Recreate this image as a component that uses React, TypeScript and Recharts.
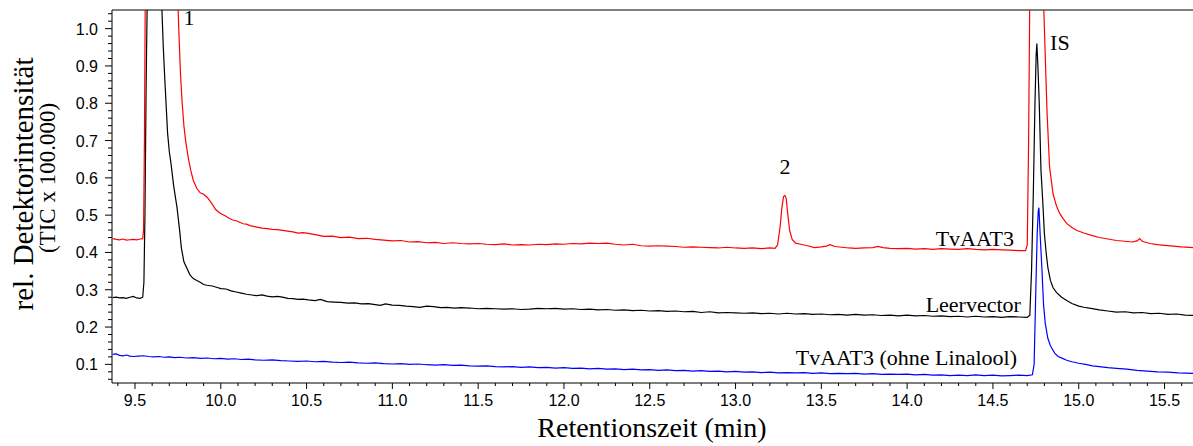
import React from 'react';
import { LineChart, Line, XAxis, YAxis, ReferenceLine, ReferenceDot, Label } from 'recharts';

type Pt = [number, number];

// retention time (min), rel. intensity
const tvaat3: Pt[] = [
  [9.37, 0.437], [9.39, 0.435], [9.41, 0.434], [9.43, 0.436], [9.45, 0.433], [9.47, 0.434], [9.49, 0.435], [9.51, 0.434], [9.53, 0.436], [9.545, 0.437],
  [9.55, 0.46], [9.555, 0.7], [9.56, 1.1], [9.58, 1.6], [9.65, 1.9], [9.72, 1.6], [9.745, 1.15], [9.755, 1.0], [9.765, 0.88], [9.775, 0.8],
  [9.785, 0.74], [9.795, 0.7], [9.81, 0.655], [9.825, 0.62], [9.84, 0.593], [9.86, 0.572], [9.88, 0.56], [9.9, 0.556], [9.92, 0.548], [9.94, 0.536],
  [9.955, 0.526], [9.97, 0.515], [9.99, 0.507], [10.01, 0.502], [10.03, 0.497], [10.05, 0.491], [10.07, 0.487], [10.09, 0.485], [10.11, 0.481], [10.13, 0.477],
  [10.15, 0.476], [10.17, 0.472], [10.19, 0.47], [10.21, 0.468], [10.24, 0.465], [10.27, 0.464], [10.3, 0.462], [10.33, 0.461], [10.36, 0.459], [10.39, 0.457],
  [10.42, 0.455], [10.45, 0.452], [10.48, 0.453], [10.51, 0.451], [10.55, 0.448], [10.6, 0.443], [10.65, 0.444], [10.7, 0.44], [10.75, 0.441], [10.8, 0.437],
  [10.85, 0.438], [10.9, 0.435], [10.95, 0.433], [11.0, 0.431], [11.05, 0.432], [11.1, 0.428], [11.15, 0.429], [11.2, 0.426], [11.25, 0.427], [11.3, 0.424],
  [11.35, 0.426], [11.4, 0.424], [11.45, 0.423], [11.5, 0.424], [11.55, 0.422], [11.6, 0.421], [11.65, 0.423], [11.7, 0.42], [11.75, 0.421], [11.8, 0.42],
  [11.85, 0.422], [11.9, 0.421], [11.95, 0.423], [12.0, 0.422], [12.05, 0.424], [12.1, 0.423], [12.15, 0.425], [12.2, 0.424], [12.25, 0.425], [12.3, 0.422],
  [12.35, 0.42], [12.4, 0.422], [12.45, 0.418], [12.5, 0.417], [12.55, 0.418], [12.6, 0.417], [12.65, 0.416], [12.7, 0.414], [12.75, 0.415], [12.8, 0.414],
  [12.85, 0.413], [12.9, 0.412], [12.95, 0.414], [13.0, 0.412], [13.05, 0.411], [13.1, 0.412], [13.15, 0.41], [13.2, 0.412], [13.23, 0.411], [13.245, 0.42],
  [13.26, 0.47], [13.27, 0.52], [13.28, 0.55], [13.288, 0.553], [13.295, 0.545], [13.305, 0.5], [13.315, 0.46], [13.33, 0.435], [13.35, 0.425], [13.38, 0.422],
  [13.42, 0.418], [13.46, 0.413], [13.5, 0.415], [13.53, 0.417], [13.55, 0.421], [13.58, 0.416], [13.62, 0.414], [13.66, 0.412], [13.7, 0.411], [13.75, 0.412],
  [13.8, 0.413], [13.83, 0.416], [13.86, 0.413], [13.9, 0.411], [13.95, 0.41], [14.0, 0.411], [14.05, 0.409], [14.1, 0.41], [14.15, 0.408], [14.2, 0.41],
  [14.25, 0.409], [14.3, 0.408], [14.35, 0.41], [14.4, 0.408], [14.45, 0.407], [14.5, 0.408], [14.55, 0.407], [14.6, 0.406], [14.65, 0.405], [14.69, 0.405],
  [14.7, 0.42], [14.708, 0.7], [14.715, 1.1], [14.74, 1.6], [14.77, 1.6], [14.79, 1.15], [14.8, 1.0], [14.815, 0.78], [14.83, 0.63], [14.85, 0.558],
  [14.87, 0.525], [14.89, 0.504], [14.91, 0.49], [14.93, 0.478], [14.96, 0.467], [14.99, 0.459], [15.03, 0.452], [15.08, 0.445], [15.12, 0.44], [15.17, 0.436],
  [15.22, 0.432], [15.27, 0.43], [15.31, 0.428], [15.34, 0.431], [15.355, 0.437], [15.37, 0.43], [15.415, 0.424], [15.46, 0.421], [15.5, 0.419], [15.55, 0.417],
  [15.6, 0.415], [15.67, 0.413],
];

const leervector: Pt[] = [
  [9.37, 0.279], [9.39, 0.28], [9.41, 0.278], [9.43, 0.279], [9.45, 0.277], [9.47, 0.28], [9.49, 0.282], [9.51, 0.278], [9.53, 0.277], [9.545, 0.28],
  [9.552, 0.32], [9.558, 0.5], [9.565, 0.85], [9.572, 1.1], [9.6, 1.6], [9.64, 1.4], [9.657, 1.05], [9.665, 0.95], [9.675, 0.853], [9.69, 0.72],
  [9.7, 0.67], [9.71, 0.638], [9.725, 0.58], [9.745, 0.52], [9.76, 0.46], [9.77, 0.413], [9.785, 0.375], [9.8, 0.36], [9.82, 0.34], [9.84, 0.33],
  [9.86, 0.325], [9.88, 0.32], [9.9, 0.314], [9.92, 0.312], [9.95, 0.31], [9.98, 0.306], [10.0, 0.303], [10.03, 0.302], [10.06, 0.297], [10.09, 0.294],
  [10.12, 0.291], [10.15, 0.288], [10.18, 0.286], [10.21, 0.284], [10.24, 0.286], [10.27, 0.283], [10.3, 0.281], [10.33, 0.282], [10.36, 0.28], [10.39, 0.277],
  [10.42, 0.276], [10.45, 0.274], [10.48, 0.275], [10.51, 0.273], [10.55, 0.271], [10.58, 0.274], [10.62, 0.268], [10.66, 0.267], [10.7, 0.266], [10.74, 0.264],
  [10.78, 0.265], [10.82, 0.262], [10.86, 0.263], [10.9, 0.26], [10.93, 0.258], [10.96, 0.262], [11.0, 0.259], [11.04, 0.258], [11.08, 0.256], [11.12, 0.255],
  [11.16, 0.253], [11.2, 0.256], [11.24, 0.255], [11.28, 0.252], [11.32, 0.253], [11.36, 0.251], [11.4, 0.252], [11.45, 0.251], [11.5, 0.249], [11.55, 0.25],
  [11.6, 0.249], [11.65, 0.248], [11.7, 0.249], [11.75, 0.247], [11.8, 0.248], [11.85, 0.25], [11.9, 0.249], [11.95, 0.25], [12.0, 0.248], [12.05, 0.249],
  [12.1, 0.247], [12.15, 0.248], [12.2, 0.246], [12.25, 0.247], [12.3, 0.245], [12.35, 0.246], [12.4, 0.244], [12.45, 0.245], [12.5, 0.243], [12.55, 0.244],
  [12.6, 0.242], [12.65, 0.243], [12.7, 0.241], [12.75, 0.242], [12.8, 0.239], [12.85, 0.241], [12.9, 0.238], [12.95, 0.239], [13.0, 0.238], [13.05, 0.237],
  [13.1, 0.238], [13.15, 0.236], [13.2, 0.237], [13.25, 0.235], [13.3, 0.237], [13.35, 0.235], [13.4, 0.236], [13.45, 0.234], [13.5, 0.235], [13.55, 0.233],
  [13.6, 0.234], [13.65, 0.232], [13.7, 0.234], [13.75, 0.232], [13.8, 0.233], [13.85, 0.231], [13.9, 0.232], [13.95, 0.23], [14.0, 0.232], [14.05, 0.23],
  [14.1, 0.231], [14.15, 0.229], [14.2, 0.23], [14.25, 0.228], [14.3, 0.229], [14.35, 0.227], [14.4, 0.229], [14.45, 0.227], [14.5, 0.228], [14.55, 0.226],
  [14.6, 0.228], [14.65, 0.227], [14.7, 0.226], [14.715, 0.232], [14.725, 0.35], [14.735, 0.55], [14.745, 0.8], [14.752, 0.93], [14.756, 0.96], [14.762, 0.9],
  [14.77, 0.8], [14.78, 0.62], [14.79, 0.54], [14.8, 0.45], [14.81, 0.4], [14.82, 0.36], [14.835, 0.325], [14.85, 0.306], [14.87, 0.293], [14.9, 0.28],
  [14.93, 0.271], [14.96, 0.263], [15.0, 0.256], [15.03, 0.253], [15.07, 0.25], [15.12, 0.246], [15.17, 0.243], [15.22, 0.24], [15.27, 0.241], [15.32, 0.238],
  [15.37, 0.239], [15.42, 0.236], [15.47, 0.237], [15.52, 0.234], [15.57, 0.235], [15.62, 0.232], [15.67, 0.231],
];

const ohneLinalool: Pt[] = [
  [9.37, 0.127], [9.39, 0.128], [9.41, 0.124], [9.43, 0.123], [9.45, 0.125], [9.47, 0.122], [9.49, 0.121], [9.52, 0.122], [9.55, 0.123], [9.58, 0.121],
  [9.61, 0.12], [9.64, 0.121], [9.67, 0.119], [9.7, 0.12], [9.73, 0.118], [9.76, 0.119], [9.8, 0.117], [9.84, 0.118], [9.88, 0.116], [9.92, 0.117],
  [9.96, 0.115], [10.0, 0.116], [10.04, 0.114], [10.08, 0.115], [10.12, 0.113], [10.16, 0.114], [10.2, 0.112], [10.25, 0.111], [10.3, 0.112], [10.35, 0.11],
  [10.4, 0.109], [10.45, 0.108], [10.5, 0.109], [10.55, 0.107], [10.6, 0.108], [10.65, 0.106], [10.7, 0.105], [10.75, 0.106], [10.8, 0.104], [10.85, 0.103],
  [10.9, 0.104], [10.95, 0.102], [11.0, 0.101], [11.05, 0.102], [11.1, 0.1], [11.15, 0.101], [11.2, 0.099], [11.25, 0.098], [11.3, 0.099], [11.35, 0.097],
  [11.4, 0.098], [11.45, 0.096], [11.5, 0.095], [11.55, 0.096], [11.6, 0.094], [11.65, 0.093], [11.7, 0.094], [11.75, 0.092], [11.8, 0.093], [11.85, 0.091],
  [11.9, 0.092], [11.95, 0.09], [12.0, 0.091], [12.05, 0.089], [12.1, 0.09], [12.15, 0.088], [12.2, 0.089], [12.25, 0.087], [12.3, 0.088], [12.35, 0.086],
  [12.4, 0.087], [12.45, 0.085], [12.5, 0.086], [12.55, 0.084], [12.6, 0.085], [12.65, 0.083], [12.7, 0.084], [12.75, 0.082], [12.8, 0.083], [12.85, 0.081],
  [12.9, 0.082], [12.95, 0.08], [13.0, 0.081], [13.05, 0.079], [13.1, 0.08], [13.15, 0.078], [13.2, 0.079], [13.25, 0.077], [13.3, 0.078], [13.35, 0.077],
  [13.4, 0.078], [13.45, 0.076], [13.5, 0.077], [13.55, 0.075], [13.6, 0.076], [13.65, 0.075], [13.7, 0.076], [13.75, 0.074], [13.8, 0.075], [13.85, 0.073],
  [13.9, 0.074], [13.95, 0.073], [14.0, 0.074], [14.05, 0.072], [14.1, 0.073], [14.15, 0.071], [14.2, 0.072], [14.25, 0.07], [14.3, 0.071], [14.35, 0.07],
  [14.4, 0.072], [14.45, 0.07], [14.5, 0.071], [14.55, 0.069], [14.6, 0.07], [14.65, 0.071], [14.7, 0.07], [14.73, 0.072], [14.74, 0.1], [14.75, 0.3],
  [14.758, 0.45], [14.764, 0.51], [14.768, 0.52], [14.775, 0.45], [14.785, 0.36], [14.795, 0.26], [14.805, 0.21], [14.82, 0.17], [14.835, 0.15], [14.86, 0.13],
  [14.88, 0.121], [14.905, 0.116], [14.93, 0.111], [14.96, 0.107], [15.0, 0.103], [15.04, 0.1], [15.08, 0.096], [15.12, 0.094], [15.17, 0.091], [15.22, 0.089],
  [15.28, 0.087], [15.34, 0.084], [15.4, 0.082], [15.46, 0.08], [15.52, 0.079], [15.58, 0.077], [15.67, 0.076],
];

const xTicks = [
  9.4, 9.5, 9.6, 9.7, 9.8, 9.9, 10.0, 10.1, 10.2, 10.3, 10.4, 10.5, 10.6, 10.7, 10.8, 10.9, 11.0, 11.1, 11.2, 11.3, 11.4, 11.5,
  11.6, 11.7, 11.8, 11.9, 12.0, 12.1, 12.2, 12.3, 12.4, 12.5, 12.6, 12.7, 12.8, 12.9, 13.0, 13.1, 13.2, 13.3, 13.4, 13.5,
  13.6, 13.7, 13.8, 13.9, 14.0, 14.1, 14.2, 14.3, 14.4, 14.5, 14.6, 14.7, 14.8, 14.9, 15.0, 15.1, 15.2, 15.3, 15.4, 15.5, 15.6,
];
const yTicks = [
  0.06, 0.08, 0.1, 0.12, 0.14, 0.16, 0.18, 0.2, 0.22, 0.24, 0.26, 0.28, 0.3, 0.32, 0.34, 0.36, 0.38, 0.4, 0.42, 0.44, 0.46, 0.48, 0.5,
  0.52, 0.54, 0.56, 0.58, 0.6, 0.62, 0.64, 0.66, 0.68, 0.7, 0.72, 0.74, 0.76, 0.78, 0.8, 0.82, 0.84, 0.86, 0.88, 0.9, 0.92, 0.94,
  0.96, 0.98, 1.0, 1.02, 1.04,
];

const toRows = (pts: Pt[]) => pts.map(([t, v]) => ({ t, v }));

const SANS = 'Liberation Sans, Arial, sans-serif';
const SERIF = 'Liberation Serif, Times New Roman, serif';

const isMajor = (v: number, step: number) => Math.abs(v / step - Math.round(v / step)) < 1e-6;

const XTick = (props: any) => {
  const { x, y, payload } = props;
  const major = isMajor(payload.value, 0.5);
  return (
    <g>
      <line x1={x} x2={x} y1={y} y2={y + (major ? 6 : 3)} stroke="#000" strokeWidth={1} />
      {major && (
        <text x={x} y={y + 23} textAnchor="middle" fontSize={16} fontFamily={SANS} fill="#000">
          {payload.value.toFixed(1)}
        </text>
      )}
    </g>
  );
};

const YTick = (props: any) => {
  const { x, y, payload } = props;
  const major = isMajor(payload.value, 0.1);
  return (
    <g>
      <line x1={x - (major ? 7 : 4)} x2={x} y1={y} y2={y} stroke="#000" strokeWidth={1} />
      {major && (
        <text x={x - 14} y={y + 6} textAnchor="end" fontSize={16} fontFamily={SANS} fill="#000">
          {payload.value.toFixed(1)}
        </text>
      )}
    </g>
  );
};

const peakLabel = (value: string, position: 'center' | 'left') => ({
  value,
  position,
  offset: 0,
  fontSize: 22,
  fontFamily: SERIF,
  fill: '#000',
});

export default function App() {
  return (
    <div style={{ position: 'absolute', left: 0, top: 0, width: 1193, height: 446, background: '#fff' }}>
      <LineChart width={1193} height={446} margin={{ top: 10, right: 0, bottom: 0, left: 0 }}>
        <XAxis
          type="number"
          dataKey="t"
          domain={[9.366, 15.666]}
          allowDataOverflow
          ticks={xTicks}
          interval={0}
          tick={<XTick />}
          tickLine={false}
          tickSize={0}
          tickMargin={0}
          axisLine={{ stroke: '#000' }}
          height={63}
        >
          <Label
            content={() => (
              <text x={652} y={437} textAnchor="middle" fontSize={28} fontFamily={SERIF} fill="#000">
                Retentionszeit (min)
              </text>
            )}
          />
        </XAxis>
        <YAxis
          type="number"
          domain={[0.05, 1.05]}
          allowDataOverflow
          ticks={yTicks}
          interval={0}
          tick={<YTick />}
          tickLine={false}
          tickSize={0}
          tickMargin={0}
          axisLine={{ stroke: '#000' }}
          width={112}
        >
          <Label
            content={() => (
              <g>
                <text transform="translate(33,184) rotate(-90)" textAnchor="middle" fontSize={29} fontFamily={SERIF} fill="#000">
                  rel. Detektorintensität
                </text>
                <text transform="translate(55,178) rotate(-90)" textAnchor="middle" fontSize={23} fontFamily={SERIF} fill="#000">
                  (TIC x 100.000)
                </text>
              </g>
            )}
          />
        </YAxis>
        <ReferenceLine y={1.05} stroke="#000" strokeWidth={1} />
        <Line data={toRows(ohneLinalool)} dataKey="v" stroke="#0000ff" strokeWidth={1.2} dot={false} isAnimationActive={false} />
        <Line data={toRows(leervector)} dataKey="v" stroke="#000000" strokeWidth={1.2} dot={false} isAnimationActive={false} />
        <Line data={toRows(tvaat3)} dataKey="v" stroke="#ff0000" strokeWidth={1.2} dot={false} isAnimationActive={false} />
        <ReferenceDot x={9.815} y={1.032} r={1} fill="none" stroke="none" label={peakLabel('1', 'center')} />
        <ReferenceDot x={13.288} y={0.63} r={1} fill="none" stroke="none" label={peakLabel('2', 'center')} />
        <ReferenceDot x={14.89} y={0.965} r={1} fill="none" stroke="none" label={peakLabel('IS', 'center')} />
        <ReferenceDot x={14.628} y={0.4375} r={1} fill="none" stroke="none" label={peakLabel('TvAAT3', 'left')} />
        <ReferenceDot x={14.669} y={0.262} r={1} fill="none" stroke="none" label={peakLabel('Leervector', 'left')} />
        <ReferenceDot x={14.646} y={0.119} r={1} fill="none" stroke="none" label={peakLabel('TvAAT3 (ohne Linalool)', 'left')} />
      </LineChart>
    </div>
  );
}
